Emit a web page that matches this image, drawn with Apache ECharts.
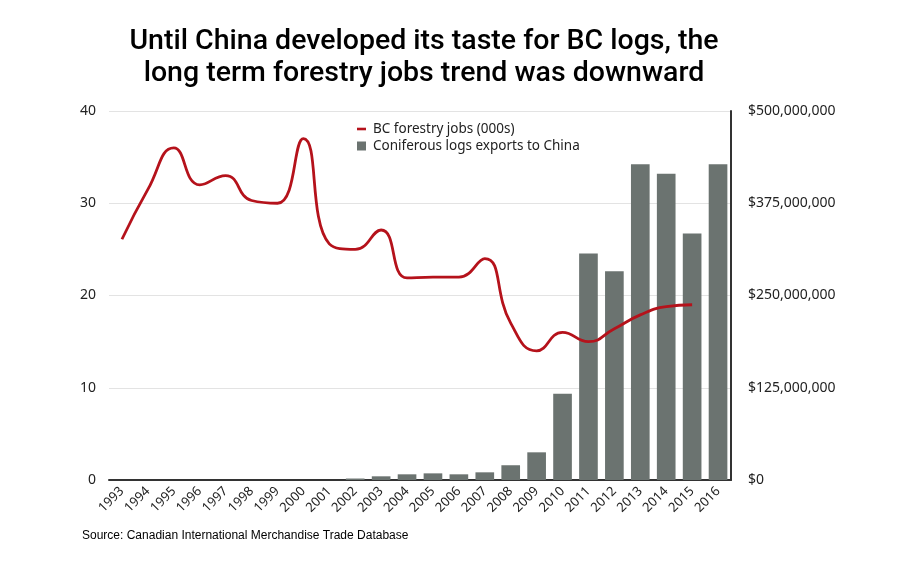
<!DOCTYPE html>
<html>
<head>
<meta charset="utf-8">
<script src="https://cdn.jsdelivr.net/npm/echarts@6/dist/echarts.min.js"></script>
<style>
html,body{margin:0;padding:0;background:#fff;}
#chart{width:907px;height:563px;}
</style>
</head>
<body>
<div id="chart"></div>
<script>
var years = ['1993','1994','1995','1996','1997','1998','1999','2000','2001','2002','2003','2004','2005','2006','2007','2008','2009','2010','2011','2012','2013','2014','2015','2016'];
var jobs = [26.1, 31.5, 36.0, 32.0, 33.0, 30.3, 30.0, 37.0, 25.6, 25.0, 27.1, 21.9, 22.0, 22.0, 24.0, 17.0, 14.0, 16.0, 15.0, 16.4, 17.9, 18.8, 19.0, null];
var exportsChina = [0, 0, 0, 0, 0, 0, 0, 0, 0, 2000000, 5000000, 7700000, 9000000, 7700000, 10400000, 20000000, 37500000, 117000000, 307000000, 283000000, 428000000, 415000000, 334000000, 428000000];
var leftTicks = [0, 10, 20, 30, 40];
var rightTicks = ['$0', '$125,000,000', '$250,000,000', '$375,000,000', '$500,000,000'];

var chart = echarts.init(document.getElementById('chart'));
var labelFont = '"Noto Sans", sans-serif';
chart.setOption({
  animation: false,
  backgroundColor: '#fff',
  title: {
    text: 'Until China developed its taste for BC logs, the\nlong term forestry jobs trend was downward',
    left: 419,
    top: 21,
    textAlign: 'center',
    textStyle: {
      fontFamily: 'Roboto, sans-serif',
      fontWeight: 500,
      fontSize: 28.5,
      lineHeight: 32,
      color: '#000'
    }
  },
  graphic: [{
    type: 'text',
    left: 82,
    top: 530,
    style: {
      text: 'Source: Canadian International Merchandise Trade Database',
      fontFamily: '"Liberation Sans", Arial, sans-serif',
      fontSize: 12,
      fill: '#000'
    }
  }],
  legend: {
    orient: 'vertical',
    left: 352,
    top: 117,
    itemWidth: 9,
    itemHeight: 9,
    itemGap: 3,
    textStyle: {fontFamily: labelFont, fontSize: 13.5, color: '#222', padding: [0,0,0,2]},
    data: [
      {name: 'BC forestry jobs (000s)', icon: 'path://M0,0 L9,0 L9,2.6 L0,2.6 Z'},
      {name: 'Coniferous logs exports to China', icon: 'rect'}
    ]
  },
  grid: {left: 109, right: 176, top: 111, bottom: 83},
  xAxis: {
    type: 'category',
    data: years,
    boundaryGap: true,
    axisLine: {show: true, lineStyle: {color: '#333', width: 2}},
    axisTick: {show: false},
    axisLabel: {
      rotate: 45,
      interval: 0,
      margin: 9,
      fontFamily: labelFont,
      fontSize: 13,
      color: '#222'
    }
  },
  yAxis: [{
    type: 'value',
    min: 0,
    max: 40,
    interval: 10,
    position: 'left',
    axisLine: {show: false},
    axisTick: {show: false},
    splitLine: {lineStyle: {color: '#e3e3e3', width: 1}},
    axisLabel: {
      margin: 13,
      fontFamily: labelFont,
      fontSize: 14,
      color: '#222',
      formatter: function (v) { return leftTicks.indexOf(v) >= 0 ? String(v) : ''; }
    }
  }, {
    type: 'value',
    min: 0,
    max: 500000000,
    interval: 125000000,
    position: 'right',
    axisLine: {show: true, lineStyle: {color: '#333', width: 2}},
    axisTick: {show: false},
    splitLine: {show: false},
    axisLabel: {
      margin: 17,
      fontFamily: labelFont,
      fontSize: 14,
      color: '#222',
      formatter: function (v) { return rightTicks[Math.round(v / 125000000)]; }
    }
  }],
  series: [{
    name: 'Coniferous logs exports to China',
    type: 'bar',
    yAxisIndex: 1,
    data: exportsChina,
    barCategoryGap: '28%',
    itemStyle: {color: '#6b7370'},
    z: 1
  }, {
    name: 'BC forestry jobs (000s)',
    type: 'line',
    yAxisIndex: 0,
    data: jobs,
    smooth: 0.5,
    symbol: 'none',
    connectNulls: false,
    lineStyle: {color: '#b5121b', width: 2.8},
    itemStyle: {color: '#b5121b'},
    z: 3
  }]
});
</script>
</body>
</html>
